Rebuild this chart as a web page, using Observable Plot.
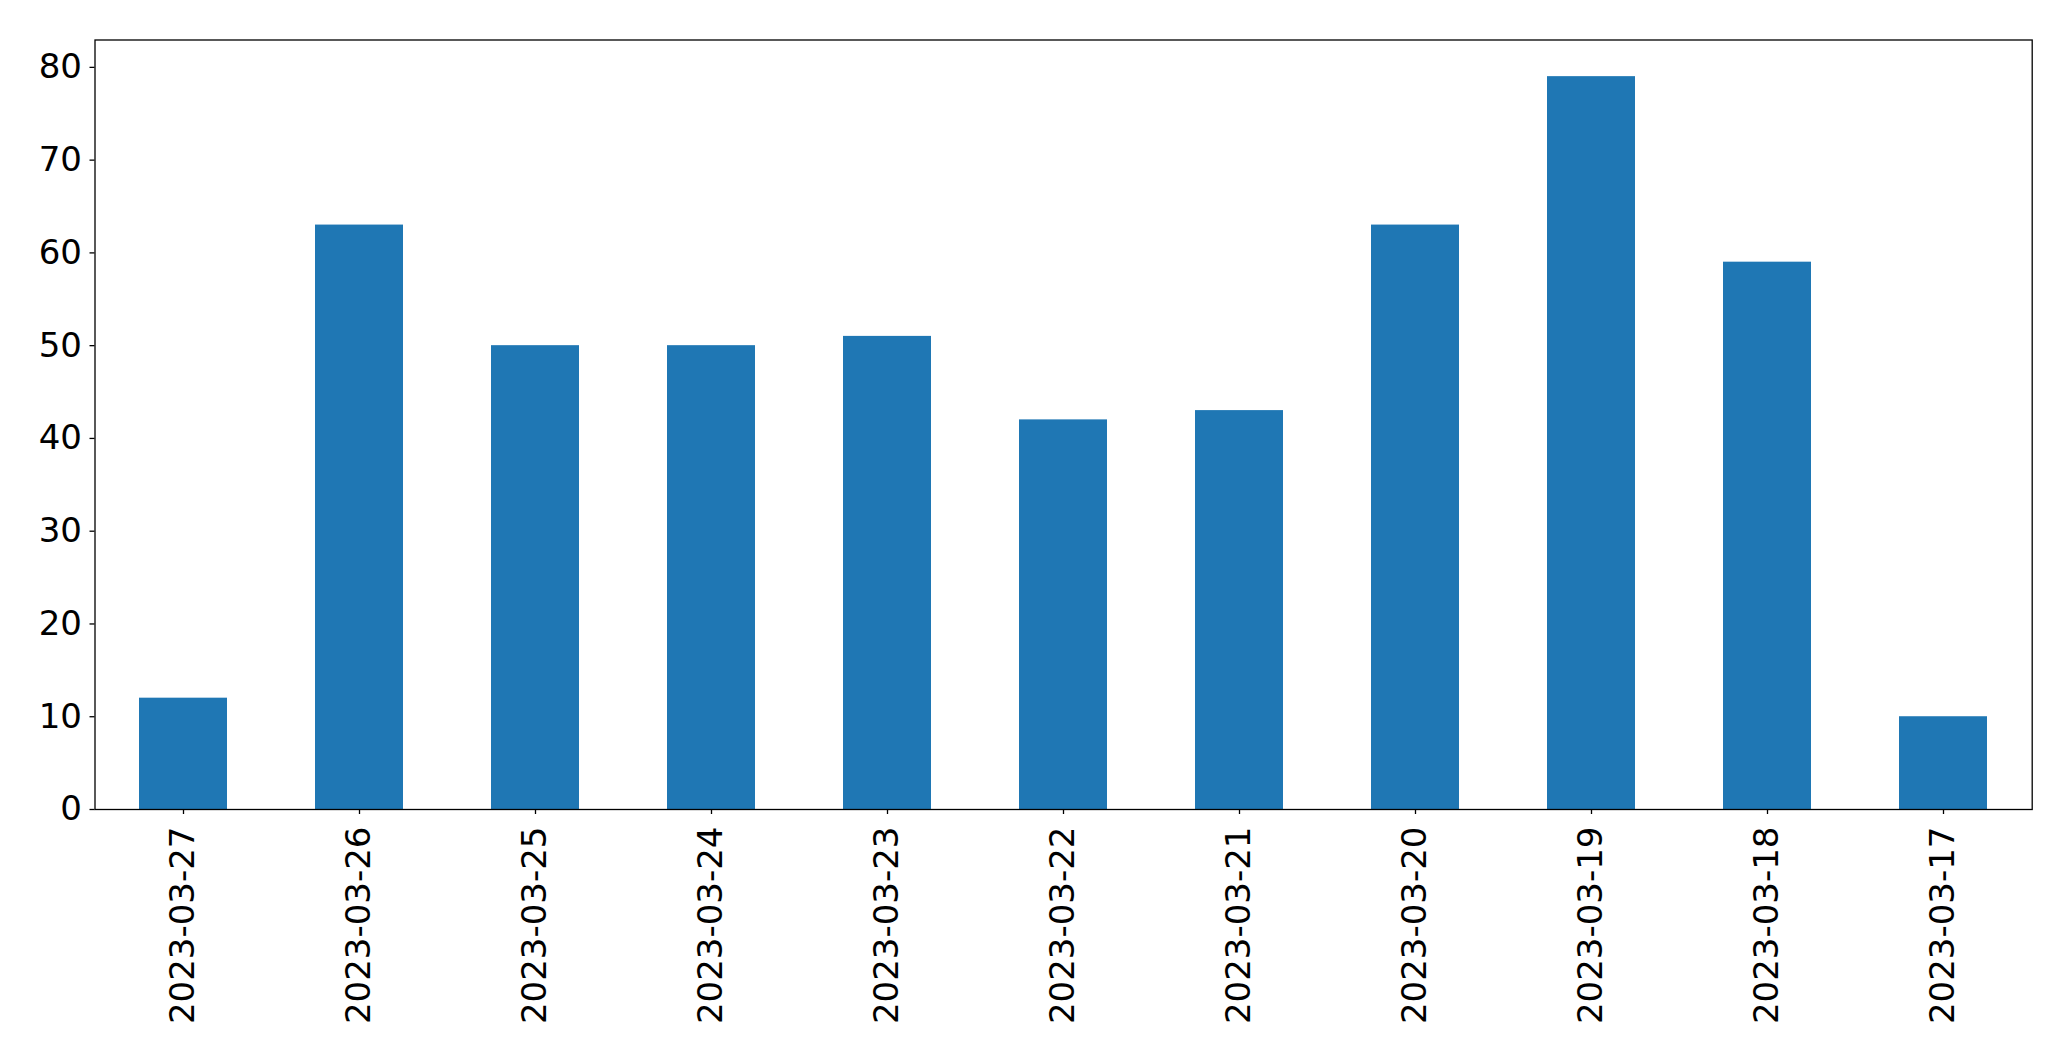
<!DOCTYPE html>
<html>
<head>
<meta charset="utf-8">
<script src="https://cdn.jsdelivr.net/npm/d3@7"></script>
<script src="https://cdn.jsdelivr.net/npm/@observablehq/plot@0.6"></script>
<style>
  html, body { margin: 0; padding: 0; background: #fff; }
  #chart svg { display: block; }
</style>
</head>
<body>
<div id="chart"></div>
<script>
const dates = ["2023-03-27","2023-03-26","2023-03-25","2023-03-24","2023-03-23","2023-03-22","2023-03-21","2023-03-20","2023-03-19","2023-03-18","2023-03-17"];
const counts = [12, 63, 50, 50, 51, 42, 43, 63, 79, 59, 10];
const yTicks = [0, 10, 20, 30, 40, 50, 60, 70, 80];

const data = dates.map((d, i) => ({date: d, count: counts[i]}));

const chart = Plot.plot({
  width: 2071,
  height: 1061,
  marginLeft: 94.5,
  marginRight: 39.3,
  marginTop: 39.5,
  marginBottom: 252,
  style: {fontFamily: "DejaVu Sans", fontSize: "34px", color: "#000", background: "#fff"},
  x: {type: "band", domain: dates, paddingInner: 0.5, paddingOuter: 0.25, label: null},
  y: {domain: [0, 82.95], label: null},
  marks: [
    Plot.barY(data, {x: "date", y: "count", fill: "#1f77b4"}),
    Plot.axisY({ticks: yTicks, tickSize: 5, tickPadding: 8, fontSize: 34, label: null, stroke: "#000", strokeWidth: 1.3}),
    Plot.axisX({tickSize: 5, tickPadding: 12, tickRotate: -90, fontSize: 34, label: null, stroke: "#000", strokeWidth: 1.3}),
    Plot.frame({stroke: "#000", strokeWidth: 1.3})
  ]
});
document.getElementById("chart").appendChild(chart);
</script>
</body>
</html>
